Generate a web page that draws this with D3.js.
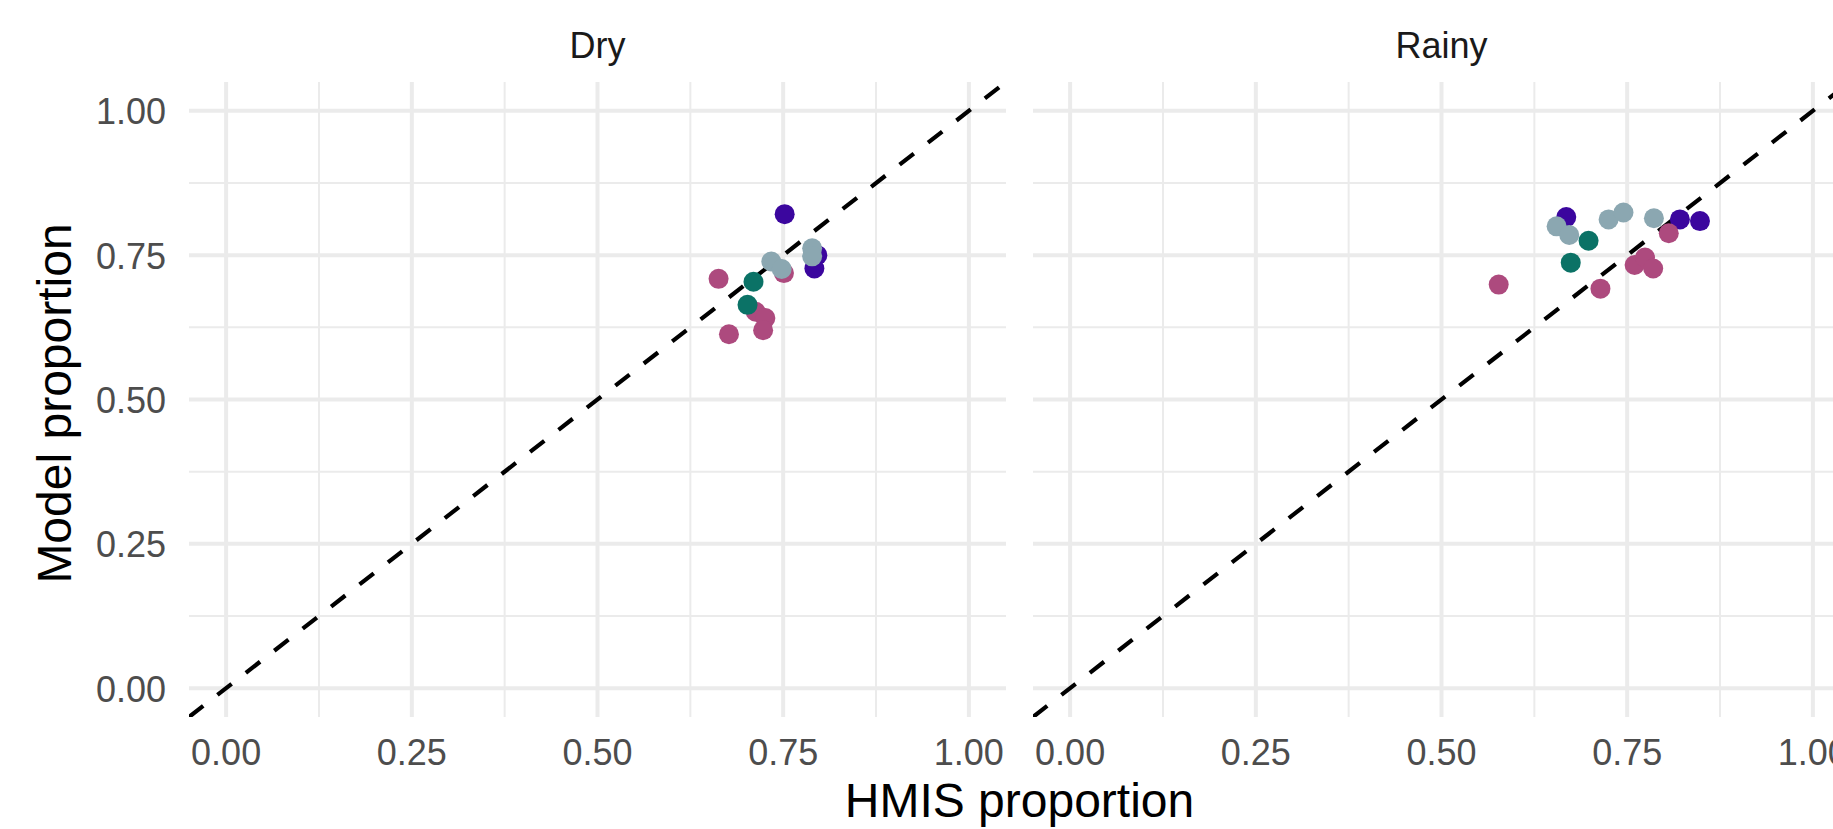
<!DOCTYPE html>
<html>
<head>
<meta charset="utf-8">
<script src="https://cdn.jsdelivr.net/npm/d3@7"></script>
<style>
  html, body { margin: 0; padding: 0; background: #ffffff; }
  svg { display: block; font-family: "Liberation Sans", Arial, Helvetica, sans-serif; }
</style>
</head>
<body>
<svg id="chart" width="1833" height="829"></svg>
<script>
// ---- data ----
const facets = ["Dry", "Rainy"];
const groups = ["purple", "pink", "teal", "slate"];
const groupColors = ["#3b069e", "#ad4a7e", "#0b7266", "#8ba7b1"];
const tickValues = [0, 0.25, 0.5, 0.75, 1];
const tickLabels = ["0.00", "0.25", "0.50", "0.75", "1.00"];
const minorValues = [0.125, 0.375, 0.625, 0.875];

// Dry season (HMIS proportion, Model proportion) by group
const dryPurpleX = [0.752, 0.796, 0.792];
const dryPurpleY = [0.821, 0.750, 0.727];
const dryPinkX = [0.663, 0.751, 0.713, 0.726, 0.723, 0.677];
const dryPinkY = [0.709, 0.719, 0.652, 0.641, 0.620, 0.613];
const dryTealX = [0.710, 0.702];
const dryTealY = [0.704, 0.664];
const drySlateX = [0.734, 0.748, 0.789, 0.789];
const drySlateY = [0.739, 0.726, 0.762, 0.748];

// Rainy season
const rainyPurpleX = [0.668, 0.821, 0.848];
const rainyPurpleY = [0.816, 0.812, 0.809];
const rainyPinkX = [0.577, 0.714, 0.760, 0.774, 0.785, 0.806];
const rainyPinkY = [0.699, 0.692, 0.733, 0.746, 0.727, 0.788];
const rainyTealX = [0.698, 0.674];
const rainyTealY = [0.775, 0.737];
const rainySlateX = [0.655, 0.672, 0.725, 0.745, 0.786];
const rainySlateY = [0.800, 0.785, 0.812, 0.824, 0.814];

const seriesX = {
  Dry:   [dryPurpleX, dryPinkX, dryTealX, drySlateX],
  Rainy: [rainyPurpleX, rainyPinkX, rainyTealX, rainySlateX]
};
const seriesY = {
  Dry:   [dryPurpleY, dryPinkY, dryTealY, drySlateY],
  Rainy: [rainyPurpleY, rainyPinkY, rainyTealY, rainySlateY]
};

// ---- layout ----
const svg = d3.select("#chart");
const panelTop = 82, panelBottom = 717;
const panelWidth = 817, panelGap = 27, firstPanelLeft = 189;
const gridColor = "#ebebeb";

const y = d3.scaleLinear().domain([-0.05, 1.05]).range([panelBottom, panelTop]);

facets.forEach((facet, fi) => {
  const left = firstPanelLeft + fi * (panelWidth + panelGap);
  const x = d3.scaleLinear().domain([-0.05, 1.05]).range([left, left + panelWidth]);
  const g = svg.append("g");

  const clipId = "clip" + fi;
  svg.append("clipPath").attr("id", clipId)
    .append("rect").attr("x", left).attr("y", panelTop)
    .attr("width", panelWidth).attr("height", panelBottom - panelTop);

  // minor grid
  g.selectAll(".minx").data(minorValues).join("line")
    .attr("x1", d => x(d)).attr("x2", d => x(d))
    .attr("y1", panelTop).attr("y2", panelBottom)
    .attr("stroke", gridColor).attr("stroke-width", 2);
  g.selectAll(".miny").data(minorValues).join("line")
    .attr("class", "miny")
    .attr("x1", left).attr("x2", left + panelWidth)
    .attr("y1", d => y(d)).attr("y2", d => y(d))
    .attr("stroke", gridColor).attr("stroke-width", 2);
  // major grid
  g.selectAll(".majx").data(tickValues).join("line")
    .attr("class", "majx")
    .attr("x1", d => x(d)).attr("x2", d => x(d))
    .attr("y1", panelTop).attr("y2", panelBottom)
    .attr("stroke", gridColor).attr("stroke-width", 4);
  g.selectAll(".majy").data(tickValues).join("line")
    .attr("class", "majy")
    .attr("x1", left).attr("x2", left + panelWidth)
    .attr("y1", d => y(d)).attr("y2", d => y(d))
    .attr("stroke", gridColor).attr("stroke-width", 4);

  // identity line
  g.append("line")
    .attr("clip-path", `url(#${clipId})`)
    .attr("x1", x(-0.05)).attr("y1", y(-0.05))
    .attr("x2", x(1.05)).attr("y2", y(1.05))
    .attr("stroke", "#000").attr("stroke-width", 4.2)
    .attr("stroke-dasharray", "18,18");

  // points
  groups.forEach((grp, gi) => {
    const xs = seriesX[facet][gi], ys = seriesY[facet][gi];
    const pts = xs.map((v, i) => [v, ys[i]]);
    g.append("g").selectAll("circle").data(pts).join("circle")
      .attr("cx", d => x(d[0])).attr("cy", d => y(d[1]))
      .attr("r", 10).attr("fill", groupColors[gi]);
  });

  // x tick labels
  g.selectAll(".xt").data(tickValues).join("text")
    .attr("class", "xt")
    .attr("x", d => x(d)).attr("y", 765)
    .attr("text-anchor", "middle")
    .attr("font-size", 36).attr("fill", "#4d4d4d")
    .text((d, i) => tickLabels[i]);

  // strip label
  g.append("text")
    .attr("x", left + panelWidth / 2).attr("y", 58)
    .attr("text-anchor", "middle")
    .attr("font-size", 36).attr("fill", "#1a1a1a")
    .text(facet);
});

// y tick labels (left only)
svg.append("g").selectAll("text").data(tickValues).join("text")
  .attr("x", 166).attr("y", d => y(d) + 13.5)
  .attr("text-anchor", "end")
  .attr("font-size", 36).attr("fill", "#4d4d4d")
  .text((d, i) => tickLabels[i]);

// axis titles
svg.append("text")
  .attr("x", (firstPanelLeft + firstPanelLeft + 2 * panelWidth + panelGap) / 2)
  .attr("y", 817)
  .attr("text-anchor", "middle")
  .attr("font-size", 48).attr("fill", "#000")
  .text("HMIS proportion");

svg.append("text")
  .attr("transform", `translate(71, ${(panelTop + panelBottom) / 2 + 4}) rotate(-90)`)
  .attr("text-anchor", "middle")
  .attr("font-size", 48).attr("fill", "#000")
  .text("Model proportion");
</script>
</body>
</html>
